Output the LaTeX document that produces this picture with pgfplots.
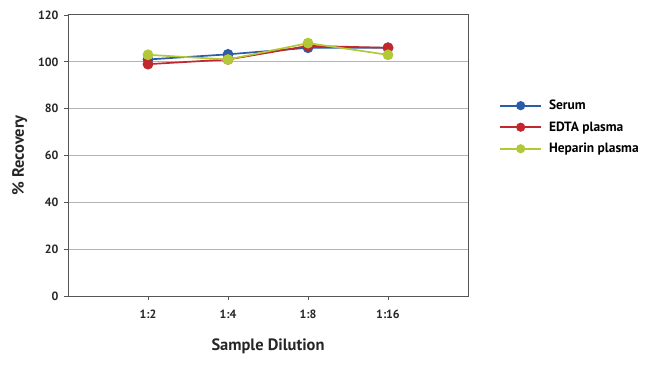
\documentclass[border=0pt]{standalone}
\usepackage{pgfplots}
\pgfplotsset{compat=1.18}
\usepackage{fontspec}
\setmainfont{PT Sans}
\definecolor{cblue}{HTML}{2A5CA8}
\definecolor{cred}{HTML}{C1272D}
\definecolor{cgreen}{HTML}{B3C836}
\definecolor{axgray}{HTML}{555555}
\definecolor{gridgray}{HTML}{B4B4B4}
\begin{document}
\begin{tikzpicture}
\useasboundingbox (-68bp,-70bp) rectangle (582bp,296bp);
\begin{axis}[
  scale only axis,
  width=400bp, height=281bp,
  xmin=0, xmax=5, ymin=0, ymax=120,
  xtick={1,2,3,4}, xticklabels={1:2,1:4,1:8,1:16},
  ytick={0,20,...,120},
  ymajorgrids,
  grid style={gridgray, line width=1pt},
  axis line style={axgray, line width=1pt},
  tick style={axgray, line width=0.8pt},
  tick align=outside,
  major tick length=4bp,
  xtick pos=bottom, ytick pos=left,
  /pgf/number format/assume math mode=true,
  ticklabel style={font=\fontsize{12}{14}\selectfont\bfseries, text=black!85},
  xticklabel style={yshift=-6bp},
  yticklabel style={xshift=-2bp},
  xlabel={Sample Dilution},
  ylabel={\% Recovery},
  label style={font=\fontsize{16.5}{18}\selectfont\bfseries, text=black!85},
  xlabel style={yshift=-14bp},
  ylabel style={yshift=4bp},
  legend style={at={(1.07,0.712)}, anchor=north west, draw=none, fill=none,
    font=\fontsize{13.5}{15}\selectfont\bfseries, row sep=6.5bp,
    /tikz/every even column/.append style={column sep=4bp}},
  legend cell align=left,
  legend image code/.code={\draw[#1, line width=2pt] (0bp,0bp) -- (41bp,0bp); \draw[#1, mark size=3.7bp, mark repeat=1] plot coordinates {(20.5bp,0bp)}; \path (46bp,0bp);},
  every axis plot/.append style={line width=1.7pt, mark=*, mark size=4.5bp, mark options={solid}},
]
\addplot[cblue] coordinates {(1,101) (2,103.2) (3,106) (4,106)};
\addlegendentry{Serum}
\addplot[cred] coordinates {(1,99) (2,101) (3,106.8) (4,106)};
\addlegendentry{EDTA plasma}
\addplot[cgreen] coordinates {(1,103) (2,101) (3,108) (4,103)};
\addlegendentry{Heparin plasma}
\end{axis}
\end{tikzpicture}
\end{document}
